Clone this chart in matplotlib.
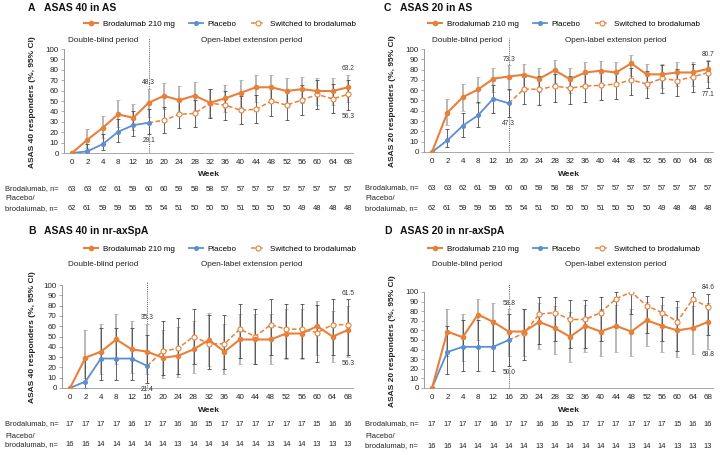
import numpy as np
import matplotlib
matplotlib.use('Agg')
import matplotlib.pyplot as plt
from matplotlib.lines import Line2D
from matplotlib.transforms import blended_transform_factory as btf

plt.rcParams['font.family'] = ['Liberation Sans', 'DejaVu Sans']

nan = float('nan')
weeks = [0, 2, 4, 8, 12, 16, 20, 24, 28, 32, 36, 40, 44, 48, 52, 56, 60, 64, 68]

# ---------------- Panel A: ASAS 40 in AS ----------------
a_brod = [0, 12.7, 24.2, 37.1, 33.9, 48.3, 55.0, 50.8, 55.2, 48.3, 52.6, 57.9, 63.2, 63.2, 59.6, 61.4, 59.6, 59.6, 63.2]
a_brod_lo = [0, 4.5, 14, 25, 22, 35, 42, 38, 41.5, 35, 39, 44, 49.5, 49.5, 46, 48, 46, 46, 49.5]
a_brod_hi = [0, 23, 36, 51, 47, 62, 67, 64, 68, 62, 65, 70, 75, 75, 72, 73.5, 72, 72, 75]
a_pbo = [0, 1.6, 8.5, 20.3, 26.8, 29.1]
a_pbo_lo = [0, 0, 2.5, 11, 16, 18]
a_pbo_hi = [0, 9, 18, 33, 40, 42]
a_sw = [29.1, 31.5, 37.3, 38.0, 48.0, 46.0, 41.2, 42.0, 50.0, 46.0, 51.0, 56.3, 52.1, 56.3]
a_sw_lo = [nan, 19.5, 24.5, 25, 34, 32, 27.5, 28.5, 36, 32, 37, 42, 38, 41.5]
a_sw_hi = [nan, 44.5, 50.5, 51, 62, 60, 54.5, 56, 64, 60, 65, 70, 66, 70]

# ---------------- Panel C: ASAS 20 in AS ----------------
c_brod = [0, 38.1, 53.2, 60.7, 71.2, 73.3, 75.0, 71.2, 79.3, 70.7, 77.2, 78.9, 77.2, 86.0, 75.4, 75.4, 77.2, 77.2, 80.7]
c_brod_lo = [0, 26, 40, 48, 58, 60, 62, 58, 67, 57, 64, 66, 64, 74, 62, 62, 64, 64, 68]
c_brod_hi = [0, 51, 66, 73, 82, 84, 85, 82, 89, 82, 87, 88, 87, 94, 85, 85, 87, 87, 89]
c_pbo = [0, 11.3, 25.4, 35.6, 51.8, 47.3]
c_pbo_lo = [0, 5, 15, 24, 38, 34]
c_pbo_hi = [0, 22, 38, 49, 65, 61]
c_sw = [47.3, 61.1, 60.8, 64.0, 62.0, 64.0, 64.7, 66.0, 70.0, 66.0, 71.4, 69.4, 72.9, 77.1]
c_sw_lo = [nan, 47, 46, 49, 47, 49, 50, 51, 55, 52, 57, 54, 58, 62]
c_sw_hi = [nan, 73, 74, 76, 74, 76, 77, 78, 82, 79, 84, 81, 85, 88]

# ---------------- Panel B: ASAS 40 in nr-axSpA ----------------
b_brod = [0, 29.4, 35.3, 47.1, 37.5, 35.3, 29.4, 31.3, 37.5, 46.7, 35.3, 47.1, 47.1, 47.1, 52.9, 52.9, 60.0, 50.0, 56.3]
b_brod_lo = [0, 10, 14, 23, 15, 14, 10, 11, 15, 21, 14, 23, 23, 23, 28, 28, 32, 25, 30]
b_brod_hi = [0, 56, 62, 72, 65, 62, 56, 59, 65, 73, 62, 72, 72, 72, 77, 77, 84, 75, 80]
b_pbo = [0, 6.3, 28.6, 28.6, 28.6, 21.4]
b_pbo_lo = [0, 0, 8, 8, 8, 5]
b_pbo_hi = [0, 30, 58, 58, 58, 51]
b_sw = [21.4, 35.7, 38.5, 50.0, 42.9, 42.9, 57.1, 50.0, 61.5, 57.1, 57.1, 53.8, 61.5, 61.5]
b_sw_lo = [nan, 13, 14, 23, 18, 18, 29, 23, 32, 29, 29, 25, 32, 32]
b_sw_hi = [nan, 65, 68, 77, 71, 71, 82, 77, 86, 82, 82, 81, 86, 86]

# ---------------- Panel D: ASAS 20 in nr-axSpA ----------------
d_brod = [0, 58.8, 52.9, 76.5, 68.8, 58.8, 58.8, 68.8, 62.5, 53.3, 64.7, 58.8, 64.7, 58.8, 70.6, 64.7, 60.0, 62.5, 68.8]
d_brod_lo = [0, 33, 28, 50, 41, 33, 33, 41, 35, 27, 38, 33, 38, 33, 44, 38, 32, 35, 41]
d_brod_hi = [0, 82, 77, 93, 89, 82, 82, 89, 85, 79, 86, 82, 86, 82, 90, 86, 84, 85, 89]
d_pbo = [0, 37.5, 42.9, 42.9, 42.9, 50.0]
d_pbo_lo = [0, 15, 18, 18, 18, 23]
d_pbo_hi = [0, 65, 71, 71, 71, 77]
d_sw = [50.0, 57.1, 76.9, 78.6, 71.4, 71.4, 78.6, 92.9, 100.0, 85.7, 78.6, 69.2, 92.3, 84.6]
d_sw_lo = [nan, 29, 46, 49, 42, 42, 49, 66, 77, 57, 49, 39, 64, 55]
d_sw_hi = [nan, 82, 95, 95, 92, 92, 95, 100, 100, 96, 95, 91, 100, 98]

# n at risk
as_n_brod = [63, 63, 62, 61, 59, 60, 60, 59, 58, 58, 57, 57, 57, 57, 57, 57, 57, 57, 57]
as_n_pbo = [62, 61, 59, 59, 56, 55, 54, 51, 50, 50, 50, 51, 50, 50, 50, 49, 48, 48, 48]
nr_n_brod = [17, 17, 17, 17, 16, 17, 17, 16, 16, 15, 17, 17, 17, 17, 17, 17, 15, 16, 16]
nr_n_pbo = [16, 16, 14, 14, 14, 14, 14, 13, 14, 14, 14, 14, 14, 13, 14, 14, 13, 13, 13]

legend_labels = ['Brodalumab 210 mg', 'Placebo', 'Switched to brodalumab']

W, H = 720, 455
fig = plt.figure(figsize=(7.2, 4.55), dpi=100)

ORANGE = '#E8803A'
BLUE = '#5B8FD3'
DARK = '#4A4A4A'
LIGHT = '#B2B2B2'


def fx(x):
    return x / W


def fy(y):
    return 1 - y / H


def draw(letter, title, ylabel, brod, brod_lo, brod_hi, pbo, pbo_lo, pbo_hi,
         sw, sw_lo, sw_hi, n_brod, n_pbo, g):
    x0, x18, top, bot = g['geom']
    u = (x18 - x0) / 18.0
    xl, xr = -0.55, 18.3
    left = x0 + xl * u
    right = x0 + xr * u
    ax = fig.add_axes([fx(left), fy(bot), (right - left) / W, (bot - top) / H])
    ax.set_xlim(xl, xr)
    ax.set_ylim(0, 100)
    idx = np.arange(len(weeks))
    brod = np.array(brod); bl = np.array(brod_lo); bh = np.array(brod_hi)
    pbo = np.array(pbo); pl = np.array(pbo_lo); ph = np.array(pbo_hi)
    sw = np.array(sw); sl = np.array(sw_lo); sh = np.array(sw_hi)
    np_ = len(pbo)
    sidx = idx[np_ - 1:]

    # error bars
    ax.errorbar(idx[1:], brod[1:], yerr=[brod[1:] - bl[1:], bh[1:] - brod[1:]],
                fmt='none', ecolor=LIGHT, elinewidth=1.3, capsize=1.6, capthick=0.6, zorder=2)
    ax.errorbar(idx[1:np_], pbo[1:], yerr=[pbo[1:] - pl[1:], ph[1:] - pbo[1:]],
                fmt='none', ecolor=DARK, elinewidth=0.6, capsize=1.6, capthick=0.6, zorder=2.1)
    ax.errorbar(sidx[1:], sw[1:], yerr=[sw[1:] - sl[1:], sh[1:] - sw[1:]],
                fmt='none', ecolor=DARK, elinewidth=0.6, capsize=1.6, capthick=0.6, zorder=2.1)

    # vertical dotted line
    ax.plot([np_ - 1, np_ - 1], [0, g['vtop']], ls=(0, (1, 1.2)), color='#555555', lw=0.7,
            clip_on=False, zorder=1)

    # lines
    ax.plot(sidx, sw, ls=(0, (3, 1.6)), color=ORANGE, lw=1.1, zorder=3)
    ax.plot(sidx[1:], sw[1:], ls='none', marker='o', ms=3.6, mfc='white', mec=ORANGE, mew=0.8, zorder=4)
    ax.plot(idx[:np_], pbo, color=BLUE, lw=1.3, marker='o', ms=2.6, mfc=BLUE, mec=BLUE, zorder=5)
    ax.plot(idx, brod, color=ORANGE, lw=1.5, marker='o', ms=3.0, mfc=ORANGE, mec=ORANGE, zorder=6)

    # annotations
    for (i, val, anchor, where) in g['ann']:
        if where == 'above':
            ax.annotate(f'{val:.1f}', (i, anchor), xytext=(0, 2), textcoords='offset points',
                        ha='center', va='bottom', fontsize=4.8, color='#333333', zorder=7)
        else:
            ax.annotate(f'{val:.1f}', (i, anchor), xytext=(0, -2), textcoords='offset points',
                        ha='center', va='top', fontsize=4.8, color='#333333', zorder=7)

    # axes styling
    ax.set_xticks(idx)
    ax.set_xticklabels([str(w) for w in weeks])
    ax.set_yticks(range(0, 101, 10))
    for s in ['top', 'right']:
        ax.spines[s].set_visible(False)
    ax.spines['left'].set_color('#8A8A8A')
    ax.spines['bottom'].set_color('#9A9A9A')
    ax.spines['left'].set_linewidth(0.6)
    ax.spines['bottom'].set_linewidth(0.6)
    ax.tick_params(axis='x', length=0, pad=4, labelsize=5.8, colors='#222222')
    ax.tick_params(axis='y', length=2, width=0.5, pad=1.5, labelsize=5.8, colors='#222222')
    ax.tick_params(axis='y', color='#8A8A8A')
    ax.set_facecolor('none')

    # y label
    fig.text(fx(g['ylab_x']), fy((top + bot) / 2 + 1), ylabel, rotation=90, ha='center', va='center',
             fontsize=6, fontweight='bold', color='#222222')
    # week label
    fig.text(fx(g['week_x']), fy(g['week_y']), 'Week', ha='center', va='center',
             fontsize=6, fontweight='bold', color='#222222')

    # title
    fig.text(fx(g['title_x']), fy(g['title_y']), letter, ha='left', va='center', fontsize=7.5,
             fontweight='bold', color='#111111')
    fig.text(fx(g['title_x'] + 16), fy(g['title_y']), title, ha='left', va='center', fontsize=7.5,
             fontweight='bold', color='#111111')

    # legend
    handles = [Line2D([], [], color=ORANGE, lw=1.5, marker='o', ms=3.0),
               Line2D([], [], color=BLUE, lw=1.3, marker='o', ms=2.6),
               Line2D([], [], color=ORANGE, lw=1.1, ls=(0, (3, 1.6)), marker='o', ms=3.6,
                      mfc='white', mec=ORANGE, mew=0.8)]
    fig.legend(handles, legend_labels, loc='center', bbox_to_anchor=(fx(g['leg_x']), fy(g['leg_y'])),
               ncol=3, frameon=False, fontsize=5.8, handlelength=1.7, columnspacing=1.8,
               handletextpad=0.6, borderpad=0, borderaxespad=0)

    # period labels
    fig.text(fx(g['db_x']), fy(g['per_y']), 'Double-blind period', ha='center', va='center',
             fontsize=5.9, color='#222222')
    fig.text(fx(g['ol_x']), fy(g['per_y']), 'Open-label extension period', ha='center', va='center',
             fontsize=5.9, color='#222222')

    # n rows
    tr = btf(ax.transData, fig.transFigure)
    y1, y2, y3 = g['nrows']
    fig.text(fx(g['lab_x']), fy(y1), 'Brodalumab, n=', ha='left', va='center', fontsize=5.4,
             color='#222222')
    fig.text(fx(g['lab_x']), fy(y2), 'Placebo/', ha='left', va='center', fontsize=5.4,
             color='#222222')
    fig.text(fx(g['lab_x']), fy(y3), 'brodalumab, n=', ha='left', va='center', fontsize=5.4,
             color='#222222')
    for i in idx:
        ax.text(i, fy(y1), str(n_brod[i]), transform=tr, ha='center', va='center', fontsize=5.4,
                color='#222222')
        ax.text(i, fy(y3), str(n_pbo[i]), transform=tr, ha='center', va='center', fontsize=5.4,
                color='#222222')
    return ax


gA = dict(geom=(72, 348, 49, 153), vtop=111, ylab_x=33, week_x=209, week_y=175,
          title_x=28, title_y=8, leg_x=220, leg_y=24, db_x=103, ol_x=252, per_y=41,
          lab_x=5, nrows=(189, 199, 209),
          ann=[(5, a_brod[5], a_brod_hi[5], 'above'), (5, a_pbo[5], a_pbo_lo[5], 'below'),
               (18, a_brod[18], a_brod_hi[18], 'above'), (18, a_sw[13], a_sw_lo[13], 'below')])
gC = dict(geom=(432, 708, 49, 152), vtop=111, ylab_x=393, week_x=569, week_y=175,
          title_x=384, title_y=8, leg_x=564, leg_y=24, db_x=467, ol_x=616, per_y=41,
          lab_x=365, nrows=(188, 199, 209),
          ann=[(5, c_brod[5], c_brod_hi[5], 'above'), (5, c_pbo[5], c_pbo_lo[5], 'below'),
               (18, c_brod[18], c_brod_hi[18], 'above'), (18, c_sw[13], c_sw_lo[13], 'below')])
gB = dict(geom=(70, 348, 285, 388), vtop=103, ylab_x=33, week_x=209, week_y=411,
          title_x=28, title_y=231, leg_x=220, leg_y=249, db_x=103, ol_x=252, per_y=264,
          lab_x=5, nrows=(424, 437, 445),
          ann=[(5, b_brod[5], b_brod_hi[5], 'above'), (5, b_pbo[5], b_pbo_lo[5], 'below'),
               (18, b_sw[13], b_sw_hi[13], 'above'), (18, b_brod[18], b_brod_lo[18], 'below')])
gD = dict(geom=(432, 708, 292, 388), vtop=109, ylab_x=393, week_x=569, week_y=411,
          title_x=384, title_y=231, leg_x=564, leg_y=249, db_x=467, ol_x=616, per_y=264,
          lab_x=365, nrows=(424, 437, 446),
          ann=[(5, d_brod[5], d_brod_hi[5], 'above'), (5, d_pbo[5], d_pbo_lo[5], 'below'),
               (18, d_sw[13], d_sw_hi[13], 'above'), (18, d_brod[18], d_brod_lo[18], 'below')])

draw('A', 'ASAS 40 in AS', 'ASAS 40 responders (%, 95% CI)', a_brod, a_brod_lo, a_brod_hi,
     a_pbo, a_pbo_lo, a_pbo_hi, a_sw, a_sw_lo, a_sw_hi, as_n_brod, as_n_pbo, gA)
draw('C', 'ASAS 20 in AS', 'ASAS 20 responders (%, 95% CI)', c_brod, c_brod_lo, c_brod_hi,
     c_pbo, c_pbo_lo, c_pbo_hi, c_sw, c_sw_lo, c_sw_hi, as_n_brod, as_n_pbo, gC)
draw('B', 'ASAS 40 in nr-axSpA', 'ASAS 40 responders (%, 95% CI)', b_brod, b_brod_lo, b_brod_hi,
     b_pbo, b_pbo_lo, b_pbo_hi, b_sw, b_sw_lo, b_sw_hi, nr_n_brod, nr_n_pbo, gB)
draw('D', 'ASAS 20 in nr-axSpA', 'ASAS 20 responders (%, 95% CI)', d_brod, d_brod_lo, d_brod_hi,
     d_pbo, d_pbo_lo, d_pbo_hi, d_sw, d_sw_lo, d_sw_hi, nr_n_brod, nr_n_pbo, gD)

fig.savefig('out.png', dpi=100, facecolor='white')
